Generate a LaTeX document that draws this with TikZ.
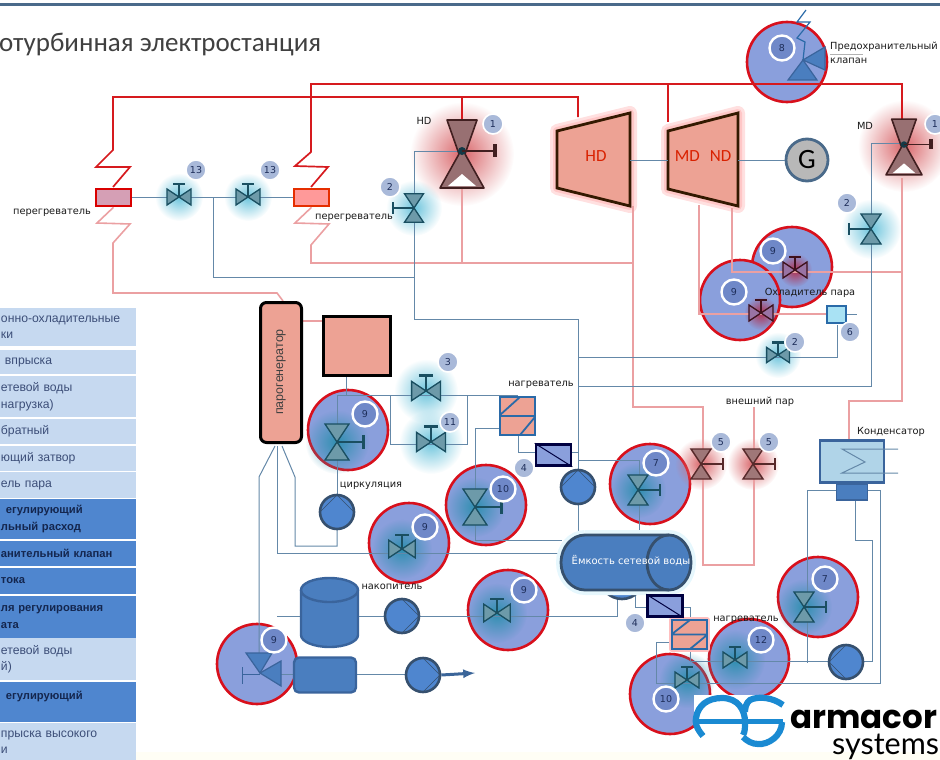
\documentclass[tikz,border=0pt]{standalone}
\usepackage{fontspec}
\setmainfont{DejaVu Sans}
\newfontfamily\titlefont{Carlito}
\newfontfamily\rowfont{Liberation Sans}
\newfontfamily\logofont{Poppins}
\newfontfamily\logothin{Lato}
\usetikzlibrary{fadings}
\definecolor{barblue}{HTML}{4A6A8A}
\definecolor{hubfill}{HTML}{8A9FDC}
\definecolor{hubred}{HTML}{D8101C}
\definecolor{pipeblue}{HTML}{6488A8}
\definecolor{pipepink}{HTML}{EBA0A2}
\definecolor{steamred}{HTML}{D61A1E}
\definecolor{salmon}{HTML}{EDA294}
\definecolor{tankblue}{HTML}{4A7EBF}
\definecolor{edgeblue}{HTML}{36506E}
\definecolor{lineblue}{HTML}{2A6AA8}
\definecolor{midblue}{HTML}{3A649C}
\definecolor{rowlight}{HTML}{C6D9F0}
\definecolor{rowdark}{HTML}{4F86CF}
\definecolor{logoblue}{HTML}{1A8AD2}
\definecolor{badgedark}{HTML}{6F88C8}
\definecolor{badgelight}{HTML}{A9B9D9}
\definecolor{numink}{HTML}{1E2E5A}
\definecolor{rowink}{HTML}{3C4E78}
\definecolor{rowinkdark}{HTML}{14264E}
\definecolor{glowcyan}{HTML}{6CC4DC}
\definecolor{glowteal}{HTML}{2F8FB0}
\definecolor{glowred}{HTML}{D9666A}
\definecolor{glowdeep}{HTML}{B03050}
\definecolor{condfill}{HTML}{B0D4E8}
\tikzfading[name=glowfade, inner color=transparent!0, outer color=transparent!100]
\tikzset{
  pipe/.style={draw=pipeblue, line width=1pt},
  hotpipe/.style={draw=pipepink, line width=1.6pt},
  steampipe/.style={draw=steamred, line width=1.7pt},
  hub/.style={circle, draw=hubred, line width=2.6pt, fill=hubfill, minimum size=80pt, inner sep=0pt},
  badge/.style={circle, fill=#1, draw=white, inner sep=0pt, text=numink,
    font=\fontsize{9.5}{10}\selectfont},
  hubbadge/.style={badge=badgedark, line width=2.4pt, minimum size=25pt},
  smallbadge/.style={badge=badgelight, line width=1.6pt, minimum size=20pt},
  lbl/.style={inner sep=0pt, font=\fontsize{9.8}{11}\selectfont, text=black!90},
  rowa/.style={fill=rowlight, minimum width=136pt, text width=134pt, inner xsep=1pt, inner ysep=0pt,
    align=left, text=rowink, font=\rowfont\fontsize{12.2}{16.5}\selectfont},
  rowb/.style={rowa, fill=rowdark, text=rowinkdark, font=\rowfont\bfseries\fontsize{11.2}{16.5}\selectfont},
  pump/.style={circle, draw=edgeblue, line width=2.6pt, fill=rowdark, minimum size=34pt, inner sep=0pt},
  pumpright/.style={pump, path picture={\draw[edgeblue, thin]
    (path picture bounding box.north) -- (path picture bounding box.east) -- (path picture bounding box.south);}},
  pumpup/.style={pump, path picture={\draw[edgeblue, thin]
    (path picture bounding box.west) -- (path picture bounding box.north) -- (path picture bounding box.east);}},
  pumpleft/.style={pump, path picture={\draw[edgeblue, thin]
    (path picture bounding box.north) -- (path picture bounding box.west) -- (path picture bounding box.south);}},
  vbody/.style={draw=black!45!glowteal, fill=glowteal!55!gray!85!white, line width=1.3pt},
  redvalve/.style={vbody/.style={draw=black!65!glowdeep, fill=glowdeep!40!hubfill, line width=1.3pt}},
  greyvalve/.style={vbody/.style={draw=black!60!glowred, fill=glowred!35!gray, line width=1.4pt}},
  heatbox/.style={draw=lineblue, line width=1.8pt, fill=salmon, minimum width=35pt, minimum height=38pt, inner sep=0pt},
  mixbox/.style={draw=black!75!blue, line width=2.6pt, fill=hubfill, minimum width=35pt, minimum height=21pt, inner sep=0pt},
  halo/.style={draw=#1, line join=round},
  valveh/.pic={
    \draw[vbody] (-12,-8) -- (0,0) -- (-12,8) -- cycle;
    \draw[vbody] (12,-8) -- (0,0) -- (12,8) -- cycle;
    \draw[vbody, line width=2.4pt] (0,0) -- (0,-13) (-6,-13) -- (6,-13);
  },
  valvev/.pic={
    \draw[vbody] (-10,-15) -- (0,0) -- (10,-15) -- cycle;
    \draw[vbody] (-10,15) -- (0,0) -- (10,15) -- cycle;
    \draw[vbody, line width=2.4pt] (0,0) -- (22,0) (22,-6) -- (22,6);
  },
  bigvalve/.pic={
    \fill[black!50!glowred!70!white] (-15,-34) -- (15,-34) -- (3,0) -- (22,34) -- (-22,34) -- (-3,0) -- cycle;
    \draw[black!70!glowred, line width=1.6pt, line join=round] (-15,-34) -- (15,-34) -- (3,0) -- (22,34) -- (-22,34) -- (-3,0) -- cycle;
    \fill[white] (-14,32) -- (0,20) -- (14,32) -- cycle;
    \fill[black!60!glowteal] (0,-3) circle (4);
    \draw[black!70!glowred, line width=1.6pt] (0,-3) -- (33,-3);
    \draw[black!70!glowred, line width=3.2pt] (33,-10) -- (33,3);
  },
}
\newcommand{\glow}[3]{\fill[#2, path fading=glowfade] (#1) circle (#3);}
\begin{document}
\begin{tikzpicture}[x=1pt, y=-1pt]
\useasboundingbox (0,0) rectangle (940,760);
\clip (0,0) rectangle (940,760);
\fill[yellow!4!white] (0,752) rectangle (940,760);
\fill[barblue] (0,3.5) rectangle (940,6.5);
\node[anchor=base west, inner sep=0pt, text=black!75, font=\titlefont\fontsize{27}{29}\selectfont] (title) at (-1,52) {отурбинная электростанция};

% left table
\node[rowa, minimum height=38pt] (row1) at (68,327) {онно-охладительные\\ки};
\node[rowa, minimum height=24pt] (row2) at (68,362) {\hspace{4pt}впрыска};
\node[rowa, minimum height=41pt] (row3) at (68,396.5) {етевой воды\\нагрузка)};
\node[rowa, minimum height=25pt] (row4) at (68,431.5) {братный};
\node[rowa, minimum height=25pt] (row5) at (68,458.5) {ющий затвор};
\node[rowa, minimum height=26pt] (row6) at (68,485) {ель пара};
\node[rowb, minimum height=40pt] (row7) at (68,519) {\hspace{5pt}егулирующий\\льный расход};
\node[rowb, minimum height=25pt] (row8) at (68,553.5) {анительный клапан};
\node[rowb, minimum height=26pt] (row9) at (68,581) {тока};
\node[rowb, minimum height=42pt] (row10) at (68,617) {ля регулирования\\ата};
\node[rowa, minimum height=42pt] (row11) at (68,659) {етевой воды\\й)};
\node[rowb, minimum height=40pt, text depth=14pt] (row12) at (68,702) {\hspace{5pt}егулирующий};
\node[rowa, minimum height=38pt] (row13) at (68,742) {прыска высокого\\и};

% large red circles
\node[hub] (hub8) at (787,62) {};
\node[hub] (hub9a) at (792,267) {};
\node[hub] (hub9b) at (740,300) {};
\node[hub] (hub9c) at (348,430) {};
\node[hub] (hub10a) at (486,505) {};
\node[hub] (hub7a) at (650,484) {};
\node[hub] (hub9d) at (409,543) {};
\node[hub] (hub9e) at (508,610) {};
\node[hub] (hub9f) at (257,664) {};
\node[hub] (hub7b) at (818,597) {};
\node[hub] (hub10b) at (670,694) {};
\node[hub] (hub12) at (749,659) {};

% glows
\glow{462,154}{glowred}{52}
\glow{904,146}{glowred}{46}
\glow{179,197}{glowcyan}{24}
\glow{248,197}{glowcyan}{24}
\glow{414,208}{glowcyan}{28}
\glow{871,229}{glowcyan}{30}
\glow{778,355}{glowcyan}{23}
\glow{426,391}{glowcyan}{32}
\glow{431,442}{glowcyan}{32}
\glow{337,442}{glowteal}{32}
\glow{475,507}{glowteal}{30}
\glow{638,490}{glowteal}{28}
\glow{402,549}{glowteal}{30}
\glow{497,613}{glowteal}{30}
\glow{804,607}{glowteal}{28}
\glow{735,660}{glowteal}{30}
\glow{687,680}{glowteal}{28}
\glow{795,270}{glowdeep}{17}
\glow{761,313}{glowdeep}{17}
\glow{701,464}{glowred}{26}
\glow{753,464}{glowred}{26}

% turbines
\coordinate (hdA) at (557,131);
\coordinate (hdB) at (630,113);
\coordinate (hdC) at (630,206);
\coordinate (hdD) at (557,188);
\coordinate (ndA) at (668,131);
\coordinate (ndB) at (738,113);
\coordinate (ndC) at (738,206);
\coordinate (ndD) at (668,189);
\draw[halo=red!12!white, line width=14pt] (hdA) -- (hdB) -- (hdC) -- (hdD) -- cycle;
\draw[halo=red!22!white, line width=8pt] (hdA) -- (hdB) -- (hdC) -- (hdD) -- cycle;
\draw[halo=red!12!white, line width=14pt] (ndA) -- (ndB) -- (ndC) -- (ndD) -- cycle;
\draw[halo=red!22!white, line width=8pt] (ndA) -- (ndB) -- (ndC) -- (ndD) -- cycle;
\draw[fill=salmon, draw=black!80!orange, line width=2.8pt] (hdA) -- (hdB) -- (hdC) -- (hdD) -- cycle;
\draw[fill=salmon, draw=black!80!orange, line width=2.8pt] (ndA) -- (ndB) -- (ndC) -- (ndD) -- cycle;
\node[inner sep=0pt, text=red!70!orange!85!black, font=\titlefont\fontsize{17}{18}\selectfont] (hdtxt) at (596,156) {HD};
\node[inner sep=0pt, text=red!70!orange!85!black, font=\titlefont\fontsize{17}{18}\selectfont] (ndtxt) at (703,156) {MD\hspace{10pt}ND};
\node[circle, draw=barblue, line width=2.8pt, fill=black!28, minimum size=42pt, inner sep=0pt, font=\titlefont\fontsize{28}{29}\selectfont] (gen) at (807,160) {G};

% steam pipes
\coordinate (sh1top) at (113,187);
\coordinate (sh2top) at (311,187);
\coordinate (v1hd) at (462,154);
\coordinate (v1md) at (904,147);
\draw[steampipe] (sh1top) -- (130,167) -- (96,167) -- (113,150) -- (113,97) -- (578,97) -- (578,117);
\draw[steampipe] (462,97) -- (462,120);
\draw[steampipe] (sh2top) -- (328,167) -- (295,166) -- (311,152) -- (311,84) -- (902,84) -- (902,120);
\draw[steampipe] (668,84) -- (668,122);

% superheaters
\node[draw=red!85!black, line width=2.6pt, fill=red!40!hubfill!60!white, minimum width=35pt, minimum height=17pt, inner sep=0pt] (sh1) at (113.5,197.5) {};
\node[draw=orange!40!red!90!black, line width=2.6pt, fill=red!40!white, minimum width=35pt, minimum height=17pt, inner sep=0pt] (sh2) at (311.5,197.5) {};

% return pipes
\coordinate (cnd) at (849,440);
\draw[hotpipe] (sh1.south) -- (97,223) -- (130,224) -- (113,243) -- (113,293) -- (277,293) -- (283,301);
\draw[hotpipe] (sh2.south) -- (295,223) -- (329,224) -- (311,245) -- (311,263) -- (633,263);
\draw[hotpipe] (462,188) -- (462,263);
\draw[hotpipe] (633,206) -- (633,407) -- (703,407) -- (703,565) -- (754,565) -- (754,407);
\draw[hotpipe] (699,205) -- (699,314) -- (826,314);
\draw[hotpipe] (732,208) -- (732,272) -- (902,272);
\draw[hotpipe] (902,178) -- (902,401) -- (849,401) -- (cnd);
\draw[hotpipe] (303,321) -- (322,321);

% water pipes
\draw[pipe] (sh1) -- (sh2);
\draw[pipe] (213,197) -- (213,277) -- (414,277);
\draw[pipe] (hdC |- gen) -- (ndA |- gen);
\draw[pipe] (ndB |- gen) -- (gen);
\draw[pipe] (462,151) -- (414,151) -- (414,319) -- (578,319) -- (578,536);
\draw[pipe] (578,357) -- (837,357) -- (837,325);
\draw[pipe] (847,314) -- (857,314);
\draw[pipe] (578,386) -- (871,386) -- (871,143) -- (904,143);
\draw[pipe] (578,460) -- (639,460) -- (639,536);
\draw[pipe] (346,377) -- (346,395);
\draw[pipe] (337,395) -- (337,495);
\draw[pipe] (337,395) -- (518,395);
\draw[pipe] (390,395) -- (390,444) -- (467,444) -- (467,395);
\draw[pipe] (518,435) -- (518,452) -- (535,452);
\draw[pipe] (572,452) -- (578,452);
\draw[pipe] (500,428) -- (475,428) -- (475,540) -- (562,540);
\draw[pipe] (275,446) -- (259,477) -- (259,672);
\draw[pipe] (277,446) -- (277,553) -- (562,553);
\draw[pipe] (282,446) -- (295,477) -- (295,546) -- (337,546) -- (337,528);
\draw[pipe] (277,616) -- (617,616) -- (617,598);
\draw[pipe] (635,590) -- (635,607) -- (647,607);
\draw[pipe] (281,674) -- (294,674);
\draw[pipe] (357,674) -- (405,674);
\draw[pipe] (683,607) -- (690,607) -- (690,620);
\draw[pipe] (690,649) -- (690,661) -- (830,661);
\draw[pipe] (672,642) -- (656,642) -- (656,683) -- (880,683) -- (880,490) -- (868,490);
\draw[pipe] (836,490) -- (807,490) -- (807,663);
\draw[pipe] (855,500) -- (855,540) -- (872,540) -- (872,661) -- (862,661);

% relief valve in circle 8
\draw[lineblue, line width=1.2pt] (806,10) -- (797,22) -- (810,22) -- (797,38) -- (805,42) -- (803,60);
\draw[draw=midblue, fill=tankblue, line width=1.2pt] (803,60) -- (788,80) -- (817,80) -- cycle;
\draw[draw=midblue, fill=tankblue, line width=1.2pt] (803,60) -- (825,47) -- (825,70) -- cycle;

% valve in circle at the lower left
\draw[draw=midblue, fill=tankblue, line width=1.2pt] (246,653) -- (272,653) -- (260,673) -- cycle;
\draw[draw=midblue, fill=tankblue, line width=1.2pt] (260,673) -- (281,661) -- (281,686) -- cycle;
\draw[midblue, line width=1pt] (260,674) -- (242,674) (242,667) -- (242,684);

% valves
\pic at (179,197) {valveh};
\pic at (248,197) {valveh};
\pic[xscale=-1] at (871,229) {valvev};
\pic[xscale=-1, scale=.95] at (414,208) {valvev};
\pic[scale=.95] at (778,355) {valveh};
\pic[scale=1.2] at (426,391) {valveh};
\pic[scale=1.2] at (431,442) {valveh};
\pic[scale=1.2] at (337,442) {valvev};
\pic[scale=1.2] at (475,507) {valvev};
\pic[scale=1.1] at (402,549) {valveh};
\pic[scale=1.1] at (497,613) {valveh};
\pic at (638,490) {valvev};
\pic at (804,607) {valvev};
\pic at (735,660) {valveh};
\pic at (687,680) {valveh};
\pic[redvalve] at (795,270) {valveh};
\pic[redvalve] at (761,313) {valveh};
\pic[greyvalve] at (701,464) {valvev};
\pic[greyvalve] at (753,464) {valvev};
\pic at (v1hd) {bigvalve};
\pic[scale=.82] at (v1md) {bigvalve};

% steam generator and other equipment
\node[draw=black, line width=3pt, rounded corners=6pt, fill=salmon, minimum width=41pt, minimum height=140pt, inner sep=0pt] (sg) at (281,372.5) {};
\node[rotate=90, inner sep=0pt, text=black!75, font=\rowfont\fontsize{12.5}{14}\selectfont] (sgtxt) at (281,372) {парогенератор};
\node[draw=black, line width=3pt, fill=salmon, minimum width=67pt, minimum height=59pt, inner sep=0pt] (boiler) at (357,346) {};
\node[heatbox] (heat1) at (517.5,416) {};
\draw[lineblue, line width=1.8pt] (heat1.west) -- (heat1.east) (500,415) -- (520,397) (520,435) -- (535,417);
\node[mixbox] (mix1) at (553.5,455) {};
\draw[black!75!blue, line width=1pt] (mix1.north west) -- (mix1.south east);
\node[pumpup] (pump1) at (578,487) {};
\node[pumpup] (pump2) at (337,512) {};
\node[pumpright] (pump3) at (402,616) {};
\node[pumpright] (pump4) at (423,675) {};
\node[pumpleft] (pump5) at (846,662) {};
\node[pump, minimum size=44pt] (pump6) at (622,577) {};
\draw[halo=cyan!10!white, line width=10pt] (585,535) -- (669,535) arc (-90:90:22 and 27.5) -- (585,590) arc (90:270:24 and 27.5);
\draw[fill=tankblue, draw=edgeblue, line width=2.8pt] (585,535) -- (669,535) arc (-90:90:22 and 27.5) -- (585,590) arc (90:270:24 and 27.5);
\draw[edgeblue, line width=2.8pt] (669,535) arc (-90:-270:22 and 27.5);
\node[inner sep=0pt, text=white, font=\fontsize{10}{11}\selectfont] (tanktxt) at (631,561) {Ёмкость сетевой воды};
\draw[fill=tankblue, draw=midblue, line width=2.4pt] (301,590) -- (301,635) arc (180:0:28.5 and 12) -- (358,590) arc (0:-180:28.5 and 12);
\draw[midblue, line width=2.4pt] (301,590) arc (180:0:28.5 and 12);
\node[draw=midblue, line width=2.4pt, fill=tankblue, rounded corners=5pt, minimum width=62pt, minimum height=35pt, inner sep=0pt] (drum) at (325,675) {};
\draw[tankblue!80!black, line width=3pt, -latex] (pump4.east) -- (475,673);
\node[draw=lineblue, line width=2pt, fill=hubfill!60!cyan!50!white, minimum width=19pt, minimum height=17pt, inner sep=0pt] (cool) at (836.5,314.5) {};

% condenser
\node[draw=midblue, line width=2.6pt, fill=condfill, minimum width=64pt, minimum height=42pt, inner sep=0pt] (cond) at (852,461.5) {};
\node[draw=midblue, line width=1.6pt, fill=tankblue, minimum width=31pt, minimum height=16pt, inner sep=0pt] (condpump) at (852,492) {};
\draw[pipe] (898,449) -- (842,449) -- (865,462) -- (842,473) -- (898,473);

% second heater
\draw[halo=red!25!white, line width=6pt] (672,620) rectangle (707,649);
\node[heatbox, minimum height=29pt] (heat2) at (689.5,634.5) {};
\draw[lineblue, line width=1.8pt] (heat2.west) -- (heat2.east) (672,634) -- (690,620) (690,649) -- (707,635);
\node[mixbox] (mix2) at (665,606) {};
\draw[black!75!blue, line width=1pt] (mix2.north west) -- (mix2.south east);

% numbers
\node[smallbadge] (b1a) at (493,124) {1};
\node[smallbadge] (b1b) at (935,124) {1};
\node[smallbadge] (b13a) at (196,170) {13};
\node[smallbadge] (b13b) at (270,170) {13};
\node[smallbadge] (b2a) at (390,187) {2};
\node[smallbadge] (b2b) at (847,203) {2};
\node[smallbadge] (b2c) at (795,342) {2};
\node[smallbadge] (b3) at (448,362) {3};
\node[smallbadge] (b11) at (450,422) {11};
\node[smallbadge] (b4a) at (524,468) {4};
\node[smallbadge] (b4b) at (635,623) {4};
\node[smallbadge] (b5a) at (721,442) {5};
\node[smallbadge] (b5b) at (769,442) {5};
\node[smallbadge] (b6) at (850,332) {6};
\node[hubbadge] (b8) at (782,48) {8};
\node[hubbadge] (b9a) at (773,251) {9};
\node[hubbadge] (b9b) at (734,292) {9};
\node[hubbadge] (b9c) at (365,414) {9};
\node[hubbadge] (b10a) at (503,489) {10};
\node[hubbadge] (b7a) at (656,463) {7};
\node[hubbadge] (b9d) at (425,527) {9};
\node[hubbadge] (b9e) at (524,590) {9};
\node[hubbadge] (b9f) at (274,640) {9};
\node[hubbadge] (b7b) at (825,579) {7};
\node[hubbadge] (b10b) at (666,699) {10};
\node[hubbadge] (b12) at (761,640) {12};

% labels
\node[lbl] (hdlbl) at (424,121) {HD};
\node[lbl] (mdlbl) at (865,126) {MD};
\node[lbl] (shlbl1) at (52,213) {перегреватель};
\node[lbl] (shlbl2) at (354,218) {перегреватель};
\node[lbl, anchor=west] (safelbl1) at (830,47) {Предохранительный};
\node[lbl, anchor=west] (safelbl2) at (830,61) {клапан};
\draw[black!30, line width=.5pt] (830,54.5) -- (863,54.5);
\node[lbl] (coollbl) at (810,293) {Охладитель пара};
\node[lbl] (heatlbl1) at (541,385) {нагреватель};
\node[lbl] (heatlbl2) at (746,620) {нагреватель};
\node[lbl] (extlbl) at (760,402) {внешний пар};
\node[lbl] (condlbl) at (891,432) {Конденсатор};
\node[lbl] (circlbl) at (371,486) {циркуляция};
\node[lbl] (storelbl) at (392,587) {накопитель};

% logo
\fill[white] (694,695) rectangle (940,752);
\fill[yellow!4!white] (694,752) rectangle (940,760);
\draw[logoblue, line width=6.2pt] (703,736) .. controls (696,728) and (695,722) .. (696,718) .. controls (698,705) and (708,698) .. (722,698) .. controls (738,698) and (745,710) .. (745,722) .. controls (745,728) and (745,732) .. (743,735);
\draw[logoblue, line width=5.5pt] (697,721.5) -- (783,721.5);
\draw[logoblue, line width=6.2pt] (783,705) .. controls (772,697) and (758,696) .. (750,700) .. controls (746,703) and (745,708) .. (745,712);
\draw[logoblue, line width=6.2pt] (782,722) .. controls (782,736) and (768,745) .. (758,744) .. controls (752,744) and (747,741) .. (743,737);
\node[anchor=base west, inner sep=0pt, font=\logofont\bfseries\fontsize{32.5}{34}\selectfont] (logo1) at (790,728) {armacor};
\node[anchor=base west, inner sep=0pt, font=\logothin\fontsize{30.5}{32}\selectfont] (logo2) at (832,754) {systems};
\end{tikzpicture}
\end{document}
